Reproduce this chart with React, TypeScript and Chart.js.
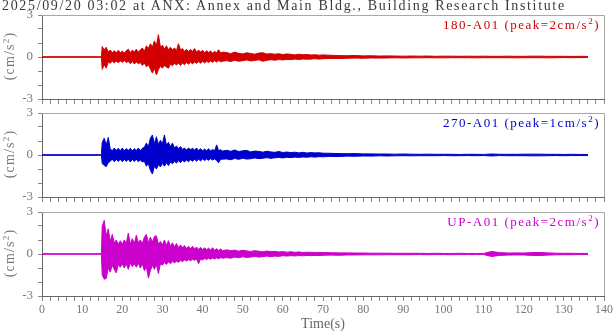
import React, { useEffect, useRef } from "react";
import { Chart, registerables } from "chart.js";

Chart.register(...registerables);

const TITLE = "2025/09/20 03:02 at ANX: Annex and Main Bldg., Building Research Institute";
const Y_TITLE = "(cm/s";
const X_TITLE = "Time(s)";
const X_MIN = 0;
const X_MAX = 140;
const Y_MIN = -3;
const Y_MAX = 3;
const CHANNELS = ["180-A01", "270-A01", "UP-A01"];
const PEAKS = [2, 1, 2];
const COLORS = ["#d20000", "#0000cc", "#cc00cc"];

// time grid (s): pre-event, 0.5 s bins 15-45, 1 s bins 46-70, 2 s bins 72-136
function grid(start: number, end: number, step: number): number[] {
  const out: number[] = [];
  for (let t = start; t <= end + 1e-9; t += step) out.push(Math.round(t * 10) / 10);
  return out;
}
const T_PRE = [0, 14.8];
const T_FINE = grid(15, 45, 0.5);
const T_MID = grid(46, 70, 1);
const T_TAIL = grid(72, 136, 2);
const TIME = [...T_PRE, ...T_FINE, ...T_MID, ...T_TAIL];

// envelopes (cm/s²) read from the record: upper (max) and lower (min)
const R180_UPPER = [
  0.02, 0.02,
  0.75, 0.5, 0.7, 0.35, 0.5, 0.3, 0.45, 0.3, 0.48, 0.3,
  0.42, 0.28, 0.45, 0.55, 0.3, 0.5, 0.35, 0.55, 0.35, 0.5,
  0.65, 0.4, 0.8, 0.6, 0.95, 0.7, 1.15, 0.8, 1.6, 0.7,
  0.85, 0.55, 0.8, 0.5, 0.7, 0.5, 0.65, 0.45, 0.95, 0.5,
  0.6, 0.4, 0.55, 0.38, 0.55, 0.4, 0.6, 0.35, 0.5, 0.35,
  0.48, 0.3, 0.45, 0.32, 0.42, 0.28, 0.4, 0.3, 0.52, 0.28,
  0.35,
  0.32, 0.24, 0.35, 0.26, 0.22, 0.3, 0.25, 0.2, 0.28, 0.3, 0.21, 0.24, 0.2,
  0.23, 0.17, 0.22, 0.19, 0.15, 0.2, 0.16, 0.18, 0.14, 0.16, 0.13, 0.15,
  0.12, 0.1, 0.09, 0.11, 0.08, 0.09, 0.07, 0.08, 0.07, 0.06, 0.07, 0.06, 0.07, 0.05, 0.06, 0.06, 0.05,
  0.06, 0.05, 0.06, 0.05, 0.05, 0.06, 0.05, 0.05, 0.06, 0.06, 0.05, 0.05, 0.05, 0.04, 0.05, 0.04,
];
const R180_LOWER = [
  -0.02, -0.02,
  -0.88, -0.55, -0.8, -0.35, -0.45, -0.28, -0.42, -0.3, -0.4, -0.28,
  -0.38, -0.25, -0.4, -0.3, -0.48, -0.32, -0.5, -0.35, -0.48, -0.4,
  -0.6, -0.42, -0.7, -0.55, -0.85, -1.15, -0.8, -1.28, -0.9, -0.65,
  -0.8, -0.6, -0.72, -0.8, -0.5, -0.62, -0.45, -0.58, -0.42, -0.6,
  -0.42, -0.55, -0.38, -0.52, -0.36, -0.5, -0.35, -0.46, -0.32, -0.45,
  -0.3, -0.42, -0.3, -0.4, -0.28, -0.38, -0.26, -0.36, -0.25, -0.34,
  -0.3,
  -0.26, -0.32, -0.24, -0.3, -0.27, -0.21, -0.28, -0.25, -0.2, -0.3, -0.24, -0.19, -0.23,
  -0.18, -0.21, -0.17, -0.19, -0.15, -0.18, -0.14, -0.16, -0.15, -0.12, -0.15, -0.12,
  -0.1, -0.11, -0.09, -0.08, -0.09, -0.07, -0.08, -0.07, -0.06, -0.07, -0.06, -0.06, -0.05, -0.06, -0.06, -0.05, -0.05,
  -0.05, -0.06, -0.05, -0.05, -0.05, -0.05, -0.06, -0.05, -0.05, -0.05, -0.06, -0.05, -0.04, -0.05, -0.04, -0.04,
];
const R270_UPPER = [
  0.02, 0.02,
  0.9, 1.2, 0.7, 1.25, 0.45, 0.3, 0.5, 0.32, 0.48, 0.3,
  0.5, 0.3, 0.46, 0.32, 0.48, 0.3, 0.45, 0.32, 0.5, 0.3,
  0.48, 0.55, 0.85, 0.6, 1.2, 1.43, 0.8, 1.3, 0.75, 1.05,
  0.8, 1.43, 0.7, 0.9, 0.6, 0.85, 0.5, 0.65, 0.45, 0.6,
  0.4, 0.5, 0.35, 0.5, 0.38, 0.48, 0.35, 0.5, 0.32, 0.45,
  0.3, 0.42, 0.3, 0.45, 0.28, 0.4, 0.3, 0.72, 0.3, 0.38,
  0.28,
  0.34, 0.26, 0.36, 0.25, 0.3, 0.33, 0.22, 0.28, 0.26, 0.2, 0.27, 0.22, 0.19,
  0.25, 0.18, 0.21, 0.17, 0.2, 0.15, 0.19, 0.14, 0.17, 0.15, 0.16, 0.13,
  0.12, 0.1, 0.09, 0.1, 0.08, 0.08, 0.07, 0.07, 0.06, 0.07, 0.06, 0.05, 0.06, 0.05, 0.05, 0.05, 0.04,
  0.05, 0.05, 0.04, 0.07, 0.05, 0.05, 0.05, 0.06, 0.06, 0.06, 0.05, 0.05, 0.04, 0.05, 0.04, 0.04,
];
const R270_LOWER = [
  -0.02, -0.02,
  -0.6, -0.75, -0.83, -0.55, -0.45, -0.3, -0.48, -0.32, -0.46, -0.3,
  -0.48, -0.32, -0.46, -0.3, -0.5, -0.32, -0.46, -0.3, -0.48, -0.35,
  -0.5, -0.45, -0.8, -0.6, -1.1, -1.36, -0.8, -1.0, -0.7, -0.85,
  -0.6, -0.8, -0.55, -0.75, -0.5, -0.62, -0.45, -0.58, -0.4, -0.55,
  -0.38, -0.5, -0.35, -0.48, -0.33, -0.46, -0.3, -0.44, -0.3, -0.42,
  -0.28, -0.4, -0.28, -0.38, -0.26, -0.36, -0.28, -0.4, -0.55, -0.3,
  -0.3,
  -0.28, -0.34, -0.25, -0.31, -0.24, -0.29, -0.27, -0.21, -0.26, -0.23, -0.19, -0.24, -0.2,
  -0.17, -0.21, -0.16, -0.19, -0.15, -0.17, -0.14, -0.16, -0.13, -0.15, -0.12, -0.13,
  -0.1, -0.11, -0.08, -0.09, -0.07, -0.08, -0.06, -0.07, -0.06, -0.05, -0.06, -0.05, -0.05, -0.05, -0.04, -0.05, -0.05,
  -0.04, -0.05, -0.04, -0.07, -0.04, -0.05, -0.05, -0.05, -0.06, -0.06, -0.05, -0.04, -0.05, -0.04, -0.04, -0.04,
];
const RUP_UPPER = [
  0.02, 0.02,
  2.0, 2.4, 1.3, 1.8, 0.9, 1.4, 0.8, 1.0, 0.7, 0.95,
  0.7, 1.0, 0.75, 1.5, 0.7, 1.1, 0.75, 1.35, 0.8, 1.0,
  0.75, 1.2, 1.4, 0.8, 1.2, 0.85, 1.25, 1.3, 0.7, 0.9,
  0.65, 1.0, 0.6, 0.95, 0.55, 0.8, 0.5, 0.75, 0.45, 0.65,
  0.45, 0.6, 0.4, 0.55, 0.38, 0.55, 0.35, 0.5, 0.33, 0.48,
  0.3, 0.45, 0.3, 0.42, 0.28, 0.45, 0.26, 0.38, 0.25, 0.35,
  0.24,
  0.3, 0.24, 0.28, 0.2, 0.27, 0.22, 0.18, 0.24, 0.2, 0.16, 0.21, 0.17, 0.19,
  0.14, 0.17, 0.13, 0.16, 0.12, 0.15, 0.11, 0.13, 0.12, 0.11, 0.12, 0.1,
  0.09, 0.08, 0.08, 0.07, 0.07, 0.06, 0.06, 0.06, 0.05, 0.05, 0.05, 0.05, 0.04, 0.05, 0.04, 0.04, 0.05,
  0.04, 0.04, 0.04, 0.18, 0.1, 0.07, 0.08, 0.07, 0.1, 0.11, 0.08, 0.06, 0.05, 0.05, 0.04, 0.04,
];
const RUP_LOWER = [
  -0.02, -0.02,
  -1.5, -1.8, -1.75, -1.0, -1.3, -0.8, -1.1, -1.35, -0.75, -0.95,
  -0.7, -1.0, -0.7, -1.1, -0.65, -0.9, -0.7, -0.95, -0.65, -1.0,
  -0.7, -1.2, -0.9, -1.72, -1.2, -0.8, -1.1, -0.75, -1.4, -0.7,
  -0.8, -0.6, -0.75, -0.55, -0.7, -0.5, -0.65, -0.5, -0.6, -0.45,
  -0.55, -0.42, -0.5, -0.4, -0.48, -0.38, -0.45, -0.35, -0.7, -0.35,
  -0.42, -0.32, -0.4, -0.3, -0.38, -0.28, -0.36, -0.28, -0.34, -0.26,
  -0.3,
  -0.26, -0.3, -0.22, -0.27, -0.2, -0.25, -0.22, -0.17, -0.22, -0.19, -0.15, -0.19, -0.15,
  -0.17, -0.12, -0.15, -0.12, -0.14, -0.11, -0.13, -0.1, -0.12, -0.1, -0.11, -0.09,
  -0.08, -0.09, -0.07, -0.07, -0.06, -0.06, -0.06, -0.05, -0.05, -0.05, -0.05, -0.04, -0.05, -0.04, -0.04, -0.05, -0.04,
  -0.04, -0.04, -0.04, -0.18, -0.1, -0.08, -0.07, -0.07, -0.1, -0.11, -0.08, -0.06, -0.05, -0.05, -0.04, -0.04,
];

const UPPERS = [R180_UPPER, R270_UPPER, RUP_UPPER];
const LOWERS = [R180_LOWER, R270_LOWER, RUP_LOWER];

const FONT = "'Liberation Serif', 'Times New Roman', serif";
const W = 616;
const PANEL_TOPS = [0, 98, 197];
const PANEL_HEIGHTS = [113, 113, 137];
const AREA_TOP = 15;
const AREA_BOTTOM = 99;
const LABEL_TOPS = [18, 116, 215];
const YTITLE_CENTERS = [56, 154, 253];

const framePlugin = {
  id: "frame",
  beforeDatasetsDraw(chart: any) {
    const { ctx, chartArea } = chart;
    const { left, top, right, bottom } = chartArea;
    ctx.save();
    ctx.strokeStyle = "#a8a8a8";
    ctx.lineWidth = 1;
    ctx.beginPath();
    ctx.moveTo(left, Math.round(top) + 0.5);
    ctx.lineTo(Math.round(right) + 0.5, Math.round(top) + 0.5);
    ctx.lineTo(Math.round(right) + 0.5, bottom);
    ctx.stroke();
    ctx.restore();
  },
};

function makeConfig(i: number): any {
  const isBottom = i === 2;
  const h = PANEL_HEIGHTS[i];
  const color = COLORS[i];
  const upper = TIME.map((t, k) => ({ x: t, y: UPPERS[i][k] }));
  const lower = TIME.map((t, k) => ({ x: t, y: LOWERS[i][k] }));
  return {
    type: "line",
    data: {
      datasets: [
        {
          data: upper,
          xAxisID: "x",
          yAxisID: "y",
          borderColor: color,
          backgroundColor: color,
          borderWidth: 1,
          pointRadius: 0,
          tension: 0,
          fill: "+1",
        },
        {
          data: lower,
          xAxisID: "x",
          yAxisID: "y",
          borderColor: color,
          backgroundColor: color,
          borderWidth: 1,
          pointRadius: 0,
          tension: 0,
          fill: false,
        },
      ],
    },
    options: {
      animation: false,
      responsive: false,
      maintainAspectRatio: false,
      events: [],
      layout: { padding: 0 },
      plugins: {
        legend: { display: false },
        tooltip: { enabled: false },
        title: { display: false },
      },
      scales: {
        x: {
          type: "linear",
          position: "bottom",
          min: X_MIN,
          max: X_MAX,
          afterFit: (s: any) => {
            s.height = h - AREA_BOTTOM;
          },
          ticks: {
            stepSize: 2,
            autoSkip: false,
            maxRotation: 0,
            padding: 2,
            color: "#777",
            font: { family: FONT, size: 12 },
            callback: (v: any) => (isBottom && Number(v) % 10 === 0 ? String(v) : ""),
          },
          grid: { drawOnChartArea: false, drawTicks: true, tickLength: 5, color: "#888" },
          border: { display: true, color: "#666" },
          title: {
            display: isBottom,
            text: X_TITLE,
            color: "#666",
            font: { family: FONT, size: 14 },
            padding: { top: 0, bottom: 1 },
          },
        },
        xTop: {
          type: "linear",
          position: "top",
          display: true,
          afterFit: (s: any) => {
            s.height = AREA_TOP;
          },
          ticks: { display: false },
          grid: { display: false },
          border: { display: false },
        },
        y: {
          type: "linear",
          position: "left",
          min: Y_MIN,
          max: Y_MAX,
          afterFit: (s: any) => {
            s.width = 42;
          },
          ticks: {
            stepSize: 1,
            autoSkip: false,
            padding: 5,
            color: "#777",
            font: { family: FONT, size: 13 },
            callback: (v: any) => {
              const n = Number(v);
              return n === Y_MAX || n === 0 || n === Y_MIN ? String(n) : "";
            },
          },
          grid: { drawOnChartArea: false, drawTicks: true, tickLength: 4, color: "#888" },
          border: { display: true, color: "#666" },
          title: { display: false },
        },
        yRight: {
          type: "linear",
          position: "right",
          display: true,
          afterFit: (s: any) => {
            s.width = 12;
          },
          ticks: { display: false },
          grid: { display: false },
          border: { display: false },
        },
      },
    },
    plugins: [framePlugin],
  };
}

const supStyle: React.CSSProperties = { fontSize: "9px", lineHeight: 0, verticalAlign: "5px" };

export default function App() {
  const r0 = useRef<HTMLCanvasElement>(null);
  const r1 = useRef<HTMLCanvasElement>(null);
  const r2 = useRef<HTMLCanvasElement>(null);

  useEffect(() => {
    const refs = [r0, r1, r2];
    const charts = refs.map((r, i) => new Chart(r.current as HTMLCanvasElement, makeConfig(i)));
    return () => charts.forEach((c) => c.destroy());
  }, []);

  const refs = [r0, r1, r2];
  return (
    <div
      style={{
        position: "fixed",
        left: 0,
        top: 0,
        width: W,
        height: 334,
        background: "#fff",
        overflow: "hidden",
      }}
    >
      {refs.map((r, i) => (
        <canvas
          key={i}
          ref={r}
          width={W}
          height={PANEL_HEIGHTS[i]}
          style={{
            position: "absolute",
            left: 0,
            top: PANEL_TOPS[i],
            width: W,
            height: PANEL_HEIGHTS[i],
            display: "block",
          }}
        />
      ))}
      <div
        style={{
          position: "absolute",
          left: 2,
          top: -1,
          font: `14px ${FONT}`,
          lineHeight: "14px",
          letterSpacing: "1.66px",
          color: "#3a3a3a",
          whiteSpace: "nowrap",
        }}
      >
        {TITLE}
      </div>
      {CHANNELS.map((ch, i) => (
        <div
          key={ch}
          style={{
            position: "absolute",
            right: 16,
            top: LABEL_TOPS[i],
            font: `13px ${FONT}`,
            lineHeight: "13px",
            letterSpacing: "1.5px",
            color: COLORS[i],
            whiteSpace: "nowrap",
          }}
        >
          {`${ch} (peak=${PEAKS[i]}cm/s`}
          <sup style={supStyle}>2</sup>
          {")"}
        </div>
      ))}
      {YTITLE_CENTERS.map((cy, i) => (
        <div
          key={"yt" + i}
          style={{
            position: "absolute",
            left: 10 - 40,
            top: cy - 8,
            width: 80,
            height: 16,
            lineHeight: "16px",
            textAlign: "center",
            transform: "rotate(-90deg)",
            transformOrigin: "50% 50%",
            font: `14px ${FONT}`,
            letterSpacing: "1.2px",
            color: "#777",
            whiteSpace: "nowrap",
          }}
        >
          {Y_TITLE}
          <sup style={supStyle}>2</sup>
          {")"}
        </div>
      ))}
    </div>
  );
}
